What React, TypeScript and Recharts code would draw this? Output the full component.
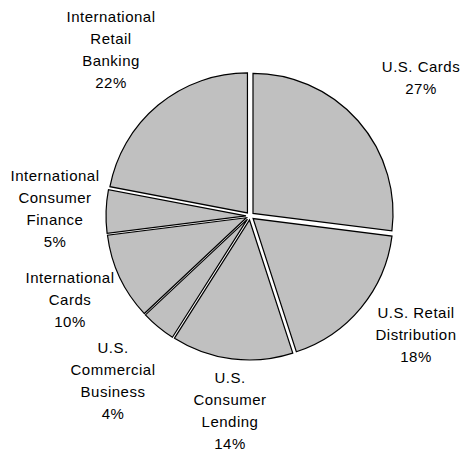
import { PieChart, Pie, Cell, Sector } from "recharts";

const segments = [
  "U.S. Cards",
  "U.S. Retail Distribution",
  "U.S. Consumer Lending",
  "U.S. Commercial Business",
  "International Cards",
  "International Consumer Finance",
  "International Retail Banking",
];
const shares = [27, 18, 14, 4, 10, 5, 22];
const labelLines = [
  ["U.S. Cards", "27%"],
  ["U.S. Retail", "Distribution", "18%"],
  ["U.S.", "Consumer", "Lending", "14%"],
  ["U.S.", "Commercial", "Business", "4%"],
  ["International", "Cards", "10%"],
  ["International", "Consumer", "Finance", "5%"],
  ["International", "Retail", "Banking", "22%"],
];

// label block centres relative to the pie centre
const labelOffsets = [
  [171, -149],
  [166, 97],
  [-20, 162],
  [-137, 132],
  [-180, 62],
  [-195, -40],
  [-139, -199],
];

const data = segments.map((name, i) => ({ name, value: shares[i] }));

const CX = 250;
const CY = 216;
const R = 140;
const EXPLODE = 4;
const RADIAN = Math.PI / 180;

const ExplodedSlice = (props: any) => {
  const { cx, cy, midAngle } = props;
  const nx = cx + EXPLODE * Math.cos(-midAngle * RADIAN);
  const ny = cy + EXPLODE * Math.sin(-midAngle * RADIAN);
  return (
    <Sector
      {...props}
      cx={nx}
      cy={ny}
      fill="#c0c0c0"
      stroke="#000"
      strokeWidth={1.2}
    />
  );
};

const renderLabel = (props: any) => {
  const { index } = props;
  const [dx, dy] = labelOffsets[index];
  const lines = labelLines[index];
  const x = CX + dx;
  const y = CY + dy + 5;
  return (
    <text
      key={`lbl-${index}`}
      x={x}
      y={y}
      textAnchor="middle"
      fill="#000"
      fontSize={15}
      letterSpacing={0.5}
      fontFamily="'Liberation Sans', Arial, sans-serif"
    >
      {lines.map((line, j) => (
        <tspan key={j} x={x} dy={j === 0 ? 0 : 22}>
          {line}
        </tspan>
      ))}
    </text>
  );
};

export default function App() {
  return (
    <div
      style={{
        position: "absolute",
        left: 0,
        top: 0,
        width: 461,
        height: 451,
        background: "#fff",
      }}
    >
      <PieChart width={461} height={451} margin={{ top: 0, right: 0, bottom: 0, left: 0 }}>
        <Pie
          data={data}
          dataKey="value"
          nameKey="name"
          cx={CX}
          cy={CY}
          outerRadius={R}
          startAngle={90}
          endAngle={-270}
          stroke="#000"
          strokeWidth={1.2}
          shape={ExplodedSlice}
          label={renderLabel}
          labelLine={false}
          isAnimationActive={false}
        >
          {data.map((d) => (
            <Cell key={d.name} fill="#c0c0c0" />
          ))}
        </Pie>
      </PieChart>
    </div>
  );
}
